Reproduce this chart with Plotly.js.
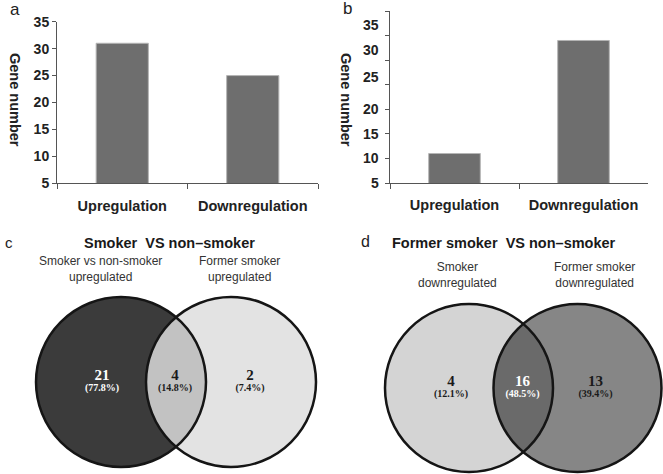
<!DOCTYPE html>
<html>
<head>
<meta charset="utf-8">
<script src="https://cdn.plot.ly/plotly-3.0.1.min.js"></script>
<style>html,body{margin:0;padding:0;background:#fff;}#chart{width:663px;height:474px;}</style>
</head>
<body>
<div id="chart"></div>
<script>
// ---------- DATA ----------
const categories = ['Upregulation', 'Downregulation'];
const valuesA = [31, 25];
const valuesB = [11, 34];
const yTicksA = [5, 10, 15, 20, 25, 30, 35];
const yTicksB = [5, 10, 15, 20, 25, 30, 35, 40];
const yLabelsB = ['5', '10', '15', '20', '25', '30', '35'];
const yLabelPosB = [5, 10, 15, 20, 26.5, 32, 37.1];
const yTitle = 'Gene number';

const vennCTitle = 'Smoker\u00a0 VS non\u2013smoker';
const vennCSetA = ['Smoker vs non-smoker', 'upregulated'];
const vennCSetB = ['Former smoker', 'upregulated'];
const vennCCounts = [21, 4, 2];

const vennDTitle = 'Former smoker\u00a0 VS non\u2013smoker';
const vennDSetA = ['Smoker', 'downregulated'];
const vennDSetB = ['Former smoker', 'downregulated'];
const vennDCounts = [4, 16, 13];

const panelLetters = ['a', 'b', 'c', 'd'];

// ---------- STYLE / LAYOUT ----------
const SANS = 'Liberation Sans, Arial, sans-serif';
const SERIF = 'Liberation Serif, Times New Roman, serif';
const W = 663, H = 474;
const BAR = '#6e6e6e';
const AX = '#555555';

function py(p) { return (H - p) / H; }   // pixel row -> paper y
function px(p) { return p / W; }          // pixel col -> paper x

// Venn geometry in pixel coordinates (x3/y3 axis is 1 unit = 1px)
const vennC = {cx: [121, 231], cy: 382, r: 85,
  fills: ['#3b3b3b', '#e3e3e3', '#c2c2c2'],
  labelX: [102, 175, 250], labelColor: ['#ffffff', '#1a1a1a', '#1a1a1a']};
const vennD = {cx: [469, 577.5], cy: 388, r: 84,
  fills: ['#d4d4d4', '#868686', '#6a6a6a'],
  labelX: [451, 522.5, 595.5], labelColor: ['#1a1a1a', '#ffffff', '#1a1a1a']};

function lensPath(v) {
  const [x1, x2] = v.cx, r = v.r, cy = v.cy;
  const d = x2 - x1;
  const a = Math.acos((d / 2) / r);
  const pts = [];
  const n = 60;
  for (let i = 0; i <= n; i++) {
    const t = -a + (2 * a) * i / n;
    pts.push([x1 + r * Math.cos(t), cy + r * Math.sin(t)]);
  }
  for (let i = 0; i <= n; i++) {
    const t = Math.PI - a + (2 * a) * i / n;
    pts.push([x2 + r * Math.cos(t), cy + r * Math.sin(t)]);
  }
  return 'M' + pts.map(p => p[0].toFixed(2) + ',' + p[1].toFixed(2)).join('L') + 'Z';
}

function vennShapes(v) {
  const s = [];
  const base = {xref: 'x3', yref: 'y3', layer: 'below'};
  s.push(Object.assign({type: 'circle', x0: v.cx[0] - v.r, x1: v.cx[0] + v.r, y0: v.cy - v.r, y1: v.cy + v.r,
    fillcolor: v.fills[0], line: {width: 0}}, base));
  s.push(Object.assign({type: 'circle', x0: v.cx[1] - v.r, x1: v.cx[1] + v.r, y0: v.cy - v.r, y1: v.cy + v.r,
    fillcolor: v.fills[1], line: {width: 0}}, base));
  s.push(Object.assign({type: 'path', path: lensPath(v), fillcolor: v.fills[2], line: {width: 0}}, base));
  for (let k = 0; k < 2; k++) {
    s.push(Object.assign({type: 'circle', x0: v.cx[k] - v.r, x1: v.cx[k] + v.r, y0: v.cy - v.r, y1: v.cy + v.r,
      fillcolor: 'rgba(0,0,0,0)', line: {color: '#151515', width: 2.5}}, base));
  }
  return s;
}

function pct(counts) {
  const tot = counts.reduce((a, b) => a + b, 0);
  return counts.map(c => '(' + (100 * c / tot).toFixed(1) + '%)');
}

function vennTraces(v, counts) {
  return [
    {type: 'scatter', mode: 'text', xaxis: 'x3', yaxis: 'y3', x: v.labelX, y: v.labelX.map(() => v.cy - 6),
     text: counts.map(c => '<b>' + c + '</b>'), textfont: {family: SERIF, size: 15, color: v.labelColor},
     hoverinfo: 'skip', cliponaxis: false},
    {type: 'scatter', mode: 'text', xaxis: 'x3', yaxis: 'y3', x: v.labelX, y: v.labelX.map(() => v.cy + 6),
     text: pct(counts).map(p => '<b>' + p + '</b>'), textfont: {family: SERIF, size: 10, color: v.labelColor},
     hoverinfo: 'skip', cliponaxis: false}
  ];
}

const traces = [
  {type: 'bar', x: categories, y: valuesA, xaxis: 'x', yaxis: 'y', width: 0.4,
   marker: {color: BAR, line: {color: '#b5b5b5', width: 1}}, hoverinfo: 'x+y'},
  {type: 'bar', x: categories, y: valuesB, xaxis: 'x2', yaxis: 'y2', width: 0.4,
   marker: {color: BAR, line: {color: '#b5b5b5', width: 1}}, hoverinfo: 'x+y'}
].concat(vennTraces(vennC, vennCCounts), vennTraces(vennD, vennDCounts));

const tickFont = {family: SANS, size: 14, color: '#222', weight: 'bold'};
const catFont = {family: SANS, size: 14.5, color: '#222', weight: 'bold'};

function xCat(domain, anchor) {
  return {domain: domain, anchor: anchor, type: 'category', range: [-0.5, 1.5],
    showline: true, linecolor: AX, linewidth: 1, ticks: 'outside', tickson: 'boundaries',
    ticklen: 5, tickcolor: AX, tickwidth: 1, tickfont: catFont, showgrid: false, zeroline: false,
    ticklabelstandoff: 9, fixedrange: true};
}

const annotations = [];
function ann(text, x, y, font, extra) {
  annotations.push(Object.assign({text: text, xref: 'paper', yref: 'paper', x: px(x), y: py(y),
    xanchor: 'center', yanchor: 'middle', showarrow: false, font: font}, extra || {}));
}
const letterFont = {family: SANS, size: 17, color: '#222'};
ann(panelLetters[0], 15, 10, letterFont);
ann(panelLetters[1], 347, 9, letterFont);
ann(panelLetters[2], 9, 242, {family: SANS, size: 15, color: '#222'});
ann(panelLetters[3], 365, 241, {family: SANS, size: 16, color: '#222'});
const yTitleFont = {family: SANS, size: 14.5, color: '#222', weight: 'bold'};
ann(yTitle, 15, 100, yTitleFont, {textangle: 90});
ann(yTitle, 346, 100, yTitleFont, {textangle: 90});

// panel b tick labels (drawn offset from the tick marks, as in the source figure)
yLabelsB.forEach((t, i) => {
  annotations.push({text: t, xref: 'paper', yref: 'y2', x: px(381), y: yLabelPosB[i],
    xanchor: 'right', yanchor: 'middle', showarrow: false, font: tickFont});
});

const titleFont = {family: SANS, size: 14.5, color: '#1a1a1a', weight: 'bold'};
const subFont = {family: SANS, size: 12, color: '#333'};
const subExtra = {borderpad: 0};
ann(vennCTitle, 169, 243, titleFont);
ann(vennCSetA.join('<br>'), 100, 269, subFont, subExtra);
ann(vennCSetB.join('<br>'), 239, 268.5, subFont, subExtra);
ann(vennDTitle, 504, 243, titleFont);
ann(vennDSetA.join('<br>'), 457.5, 275, subFont, subExtra);
ann(vennDSetB.join('<br>'), 594, 275, subFont, subExtra);

const layout = {
  width: W, height: H, margin: {l: 0, r: 0, t: 0, b: 0, pad: 0},
  paper_bgcolor: '#ffffff', plot_bgcolor: 'rgba(0,0,0,0)', showlegend: false,
  font: {family: SANS, color: '#222'},
  xaxis: xCat([px(57), px(318)], 'y'),
  yaxis: {domain: [py(183.3), py(21.7)], anchor: 'x', range: [5, 35], tickvals: yTicksA,
    showline: true, linecolor: AX, linewidth: 1, ticks: 'outside', ticklen: 4, tickcolor: AX,
    tickfont: tickFont, showgrid: false, zeroline: false, fixedrange: true},
  xaxis2: xCat([px(390), px(648)], 'y2'),
  yaxis2: {domain: [py(183), py(11)], anchor: 'x2', range: [5, 40], tickvals: yTicksB,
    showticklabels: false, showline: true, linecolor: AX, linewidth: 1, ticks: 'outside', ticklen: 4,
    tickcolor: AX, showgrid: false, zeroline: false, fixedrange: true},
  xaxis3: {domain: [0, 1], anchor: 'y3', range: [0, W], visible: false, fixedrange: true},
  yaxis3: {domain: [0, py(224)], anchor: 'x3', range: [H, 224], visible: false, fixedrange: true},
  shapes: vennShapes(vennC).concat(vennShapes(vennD)),
  annotations: annotations
};

Plotly.newPlot('chart', traces, layout, {displayModeBar: false, staticPlot: true});
</script>
</body>
</html>
